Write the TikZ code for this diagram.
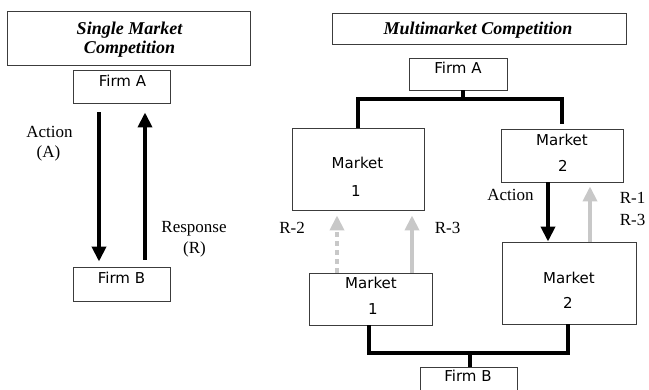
\documentclass[tikz,border=0pt]{standalone}
\usepackage{fontspec}
\setmainfont{Liberation Serif}
\newfontfamily\boxfont{DejaVu Sans}
\usetikzlibrary{arrows.meta,calc}
\definecolor{arrgray}{RGB}{200,200,200}
\definecolor{edgegray}{RGB}{60,60,60}
\begin{document}
\begin{tikzpicture}[x=1pt,y=-1pt,
  box/.style={draw=edgegray, line width=0.9pt, inner sep=0pt, anchor=center},
  btxt/.style={anchor=base, inner sep=0pt, font=\boxfont\fontsize{15}{18}\selectfont},
  ttxt/.style={anchor=base, inner sep=0pt, font=\bfseries\itshape\fontsize{18}{21}\selectfont},
  ltxt/.style={anchor=base, inner sep=0pt, font=\fontsize{17}{21}\selectfont},
  blkarr/.style={draw=black, line width=4pt, -{Triangle[width=14pt,length=15pt]}},
  gryarr/.style={draw=arrgray, line width=4pt, -{Triangle[width=14pt,length=15pt,fill=arrgray]}},
  conn/.style={draw=black, line width=4pt, line join=miter}]
\useasboundingbox (0,0) rectangle (649,389);
\fill[white] (0,0) rectangle (649,389);

% ---------- Single market ----------
\node[box, minimum width=243pt, minimum height=54pt] (t1) at (128.5,38) {};
\node[ttxt] (t1a) at (129.5,34) {Single Market};
\node[ttxt] (t1b) at (129.5,53) {Competition};

\node[box, minimum width=97pt, minimum height=33pt] (fa1) at (121.5,86.5) {};
\node[btxt] (fa1t) at (122.5,86.5) {Firm A};
\node[box, minimum width=97pt, minimum height=34pt] (fb1) at (121.5,284) {};
\node[btxt] (fb1t) at (121.5,283.5) {Firm B};

\coordinate (a1s) at ($(fa1.south)+(-22.5,9)$);
\coordinate (a1e) at ($(fb1.north)+(-22.5,-5)$);
\draw[blkarr] (a1s) -- (a1e);
\coordinate (r1s) at ($(fb1.north)+(23.5,-7)$);
\coordinate (r1e) at ($(fa1.south)+(23.5,9)$);
\draw[blkarr] (r1s) -- (r1e);

\node[ltxt] (act1) at (49.5,137) {Action};
\node[ltxt] (act1b) at (48.5,157.5) {(A)};
\node[ltxt] (resp1) at (194,232) {Response};
\node[ltxt] (resp1b) at (194.5,253) {(R)};

% ---------- Multimarket ----------
\node[box, minimum width=294pt, minimum height=31pt] (t2) at (479,28.5) {};
\node[ttxt] (t2a) at (478,34) {Multimarket Competition};

\node[box, minimum width=98pt, minimum height=32pt] (fa2) at (458,74) {};
\node[btxt] (fa2t) at (458,73.5) {Firm A};

\node[box, minimum width=132pt, minimum height=82pt] (m1u) at (358,169) {};
\node[btxt] (m1ua) at (357.5,168.5) {Market};
\node[btxt] (m1ub) at (356,196.5) {1};

\node[box, minimum width=122pt, minimum height=53pt] (m2u) at (562,155.5) {};
\node[btxt] (m2ua) at (562,145) {Market};
\node[btxt] (m2ub) at (563,171) {2};

\node[box, minimum width=123pt, minimum height=52pt] (m1l) at (370.5,299) {};
\node[btxt] (m1la) at (371,288.5) {Market};
\node[btxt] (m1lb) at (373,314.5) {1};

\node[box, minimum width=134pt, minimum height=82pt] (m2l) at (569,283) {};
\node[btxt] (m2la) at (569,283) {Market};
\node[btxt] (m2lb) at (568,308.5) {2};

\node[box, minimum width=97pt, minimum height=34pt] (fb2) at (468.5,384) {};
\node[btxt] (fb2t) at (468,381.5) {Firm B};

% top tree
\coordinate (j1) at (463,99);
\coordinate (fa2s) at (fa2.south -| j1);
\coordinate (j1l) at (m1u.north |- j1);
\coordinate (j1r) at (m2u.north |- j1);
\coordinate (m2top) at ($(m2u.north)+(0,-5)$);
\draw[conn] (fa2s) -- (j1);
\draw[conn] (m1u.north) -- (j1l) -- (j1r) -- (m2top);

% bottom tree
\coordinate (j2) at (470,353);
\coordinate (m1bot) at ($(m1l.south)+(-1.5,0)$);
\coordinate (m2bot) at ($(m2l.south)+(-1,0)$);
\coordinate (j2l) at (m1bot |- j2);
\coordinate (j2r) at (m2bot |- j2);
\coordinate (fb2n) at (fb2.north -| j2);
\draw[conn] (m1bot) -- (j2l) -- (j2r) -- (m2bot);
\draw[conn] (fb2n) -- (j2);

% arrows right side
\coordinate (ar2s) at ($(m2u.south)+(-14,0)$);
\coordinate (ar2e) at (ar2s |- m2l.north);
\draw[blkarr] (ar2s) -- (ar2e);
\coordinate (g1s) at ($(m2l.north)+(21,0)$);
\coordinate (g1t) at (g1s |- m2u.south);
\draw[gryarr] (g1s) -- ($(g1t)+(0,4)$);
\coordinate (g2s) at ($(m1l.north)+(-33.5,0)$);
\coordinate (g2t) at (g2s |- m1u.south);
\draw[gryarr, dash pattern=on 5pt off 4pt] (g2s) -- ($(g2t)+(0,5)$);
\coordinate (g3s) at ($(m1l.north)+(41.5,0)$);
\coordinate (g3t) at (g3s |- m1u.south);
\draw[gryarr] (g3s) -- ($(g3t)+(0,5)$);

\node[ltxt] (act2) at (510.5,200) {Action};
\node[ltxt] (r1) at (632.5,203) {R-1};
\node[ltxt] (r3b) at (632.5,225) {R-3};
\node[ltxt] (r2) at (292,233) {R-2};
\node[ltxt] (r3a) at (447.5,233) {R-3};
\end{tikzpicture}
\end{document}
